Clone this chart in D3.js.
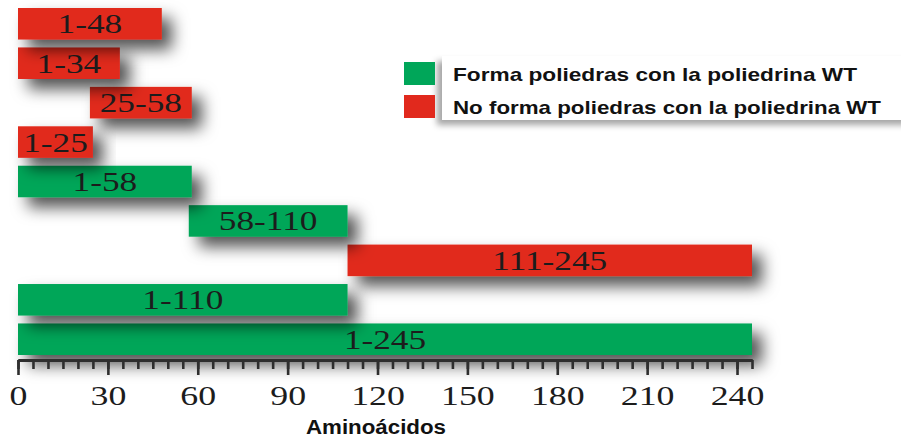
<!DOCTYPE html>
<html>
<head>
<meta charset="utf-8">
<script src="https://cdn.jsdelivr.net/npm/d3@7"></script>
<style>
  html, body { margin: 0; padding: 0; background: #ffffff; }
  svg { display: block; }
</style>
</head>
<body>
<script>
// ---- data ----
const labels = ["1-48", "1-34", "25-58", "1-25", "1-58", "58-110", "111-245", "1-110", "1-245"];
const starts = [1, 1, 25, 1, 1, 58, 111, 1, 1];
const ends = [48, 34, 58, 25, 58, 110, 245, 110, 245];
const forms = [false, false, false, false, true, true, false, true, true];
const legendLabels = ["Forma poliedras con la poliedrina WT", "No forma poliedras con la poliedrina WT"];
const legendForms = [true, false];
const majorTicks = [0, 30, 60, 90, 120, 150, 180, 210, 240];
const minorTicks = d3.range(0, 246, 5);
const axisTitle = "Aminoácidos";

const W = 901, H = 438;
const GREEN = "#00a659", RED = "#e1291d";

const svg = d3.select("body").append("svg").attr("width", W).attr("height", H);
svg.append("rect").attr("width", W).attr("height", H).attr("fill", "#fff");

const defs = svg.append("defs");
const f = defs.append("filter").attr("id", "shadow")
  .attr("x", "-20%").attr("y", "-60%").attr("width", "150%").attr("height", "280%");
f.append("feDropShadow").attr("dx", 10).attr("dy", 10).attr("stdDeviation", 8)
  .attr("flood-color", "#000").attr("flood-opacity", 0.68);
const f2 = defs.append("filter").attr("id", "lshadow")
  .attr("x", "-10%").attr("y", "-30%").attr("width", "120%").attr("height", "160%");
f2.append("feDropShadow").attr("dx", -5).attr("dy", 5).attr("stdDeviation", 3)
  .attr("flood-color", "#000").attr("flood-opacity", 0.35);

const x = d3.scaleLinear().domain([0, 245]).range([18, 752]);
const y = d3.scaleBand().domain(labels).range([8, 355]).paddingInner(0.2).paddingOuter(0);
const color = d => d ? GREEN : RED;

// bars: drawn bottom-up so upper bars' shadows fall on lower ones
const idx = d3.range(labels.length).reverse();
const bars = svg.append("g").selectAll("g").data(idx).join("g");
bars.append("rect")
  .attr("x", i => x(starts[i] - 1))
  .attr("y", i => y(labels[i]))
  .attr("width", i => x(ends[i]) - x(starts[i] - 1))
  .attr("height", y.bandwidth())
  .attr("fill", i => color(forms[i]))
  .attr("filter", "url(#shadow)");
bars.append("text")
  .attr("transform", i => `translate(${(x(starts[i] - 1) + x(ends[i])) / 2},${y(labels[i]) + y.bandwidth() / 2 + 9.5}) scale(1.26,1)`)
  .attr("text-anchor", "middle")
  .attr("font-family", "'Liberation Serif', 'Times New Roman', serif")
  .attr("font-size", 28)
  .attr("fill", "#1c1c1c")
  .text(i => labels[i]);

// axis
const axisY = 360;
const gMinor = svg.append("g").attr("transform", `translate(0,${axisY})`)
  .call(d3.axisBottom(x).tickValues(minorTicks).tickSize(9).tickSizeOuter(0).tickFormat(""));
const gMajor = svg.append("g").attr("transform", `translate(0,${axisY})`)
  .call(d3.axisBottom(x).tickValues(majorTicks).tickSize(15).tickSizeOuter(0).tickFormat(d3.format("d")));
[gMinor, gMajor].forEach(g => {
  g.select(".domain").attr("stroke", "#2e2e2e").attr("stroke-width", 2.8);
  g.selectAll(".tick line").attr("stroke", "#2e2e2e").attr("stroke-width", 2.6);
});
gMajor.selectAll(".tick text")
  .attr("y", 25)
  .attr("transform", "scale(1.28,1)")
  .attr("font-family", "'Liberation Serif', 'Times New Roman', serif")
  .attr("font-size", 28)
  .attr("fill", "#1c1c1c");

svg.append("text")
  .attr("x", 376).attr("y", 434)
  .attr("text-anchor", "middle")
  .attr("font-family", "'Liberation Sans', Arial, sans-serif")
  .attr("font-weight", "bold")
  .attr("font-size", 20)
  .attr("textLength", 140).attr("lengthAdjust", "spacingAndGlyphs")
  .attr("fill", "#111")
  .text(axisTitle);

// legend
const lg = svg.append("g");
lg.append("rect").attr("x", 442).attr("y", 56).attr("width", 470).attr("height", 64)
  .attr("fill", "#fff").attr("filter", "url(#lshadow)");
const items = lg.selectAll("g.item").data(d3.range(legendLabels.length)).join("g").attr("class", "item");
items.append("rect")
  .attr("x", 404).attr("y", i => 62 + i * 33)
  .attr("width", 31).attr("height", 23)
  .attr("fill", i => color(legendForms[i]));
items.append("text")
  .attr("x", 453).attr("y", i => 81 + i * 33)
  .attr("font-family", "'Liberation Sans', Arial, sans-serif")
  .attr("font-weight", "bold")
  .attr("font-size", 19)
  .attr("textLength", i => i === 0 ? 404 : 428)
  .attr("lengthAdjust", "spacingAndGlyphs")
  .attr("fill", "#111")
  .text(i => legendLabels[i]);
</script>
</body>
</html>
